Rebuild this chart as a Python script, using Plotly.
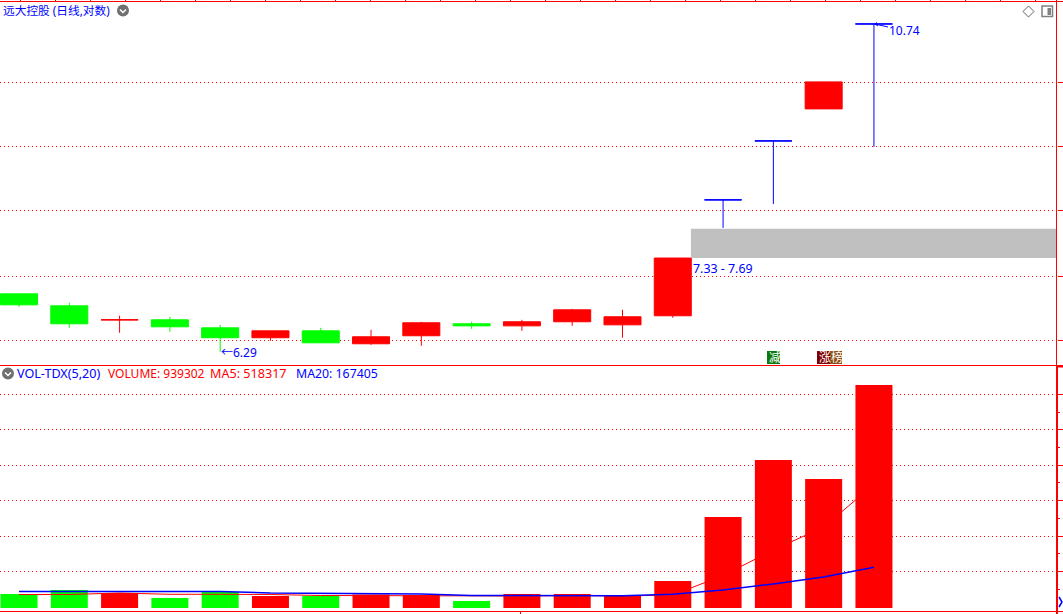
import plotly.graph_objects as go
import math

W, H, PW = 1063, 614, 1057

# ---- data ----
IDX_RED = [2, 5, 7, 8, 10, 11, 12, 13, 16]
OPEN_RED = [6.627, 6.436, 6.373, 6.457, 6.562, 6.606, 6.573, 6.671, 9.350]
HIGH_RED = [6.671, 6.509, 6.520, 6.606, 6.627, 6.747, 6.736, 7.330, 9.771]
LOW_RED = [6.488, 6.404, 6.362, 6.352, 6.509, 6.562, 6.436, 6.649, 9.350]
CLOSE_RED = [6.627, 6.509, 6.446, 6.595, 6.606, 6.736, 6.660, 7.330, 9.771]

IDX_GREEN = [0, 1, 3, 4, 6, 9]
OPEN_GREEN = [6.914, 6.780, 6.627, 6.541, 6.509, 6.584]
HIGH_GREEN = [6.914, 6.814, 6.660, 6.573, 6.541, 6.606]
LOW_GREEN = [6.769, 6.541, 6.499, 6.290, 6.383, 6.530]
CLOSE_GREEN = [6.791, 6.584, 6.552, 6.436, 6.383, 6.562]

IDX_LIMIT = [14, 15, 17]
HIGH_LIMIT = [8.060, 8.874, 10.74]
LOW_LIMIT = [7.700, 8.007, 8.788]

BAND_LOW, BAND_HIGH = 7.33, 7.69
PRICE_TICKS = [6.405, 7.114, 7.916, 8.788, 9.763]

DAYS = list(range(18))
VOLUME = [54234, 71182, 58471, 37286, 62708, 45760, 45760, 52115, 50000,
          24575, 54234, 54234, 47878, 109315, 380483, 621992, 541488, 939302]
VOL_UP = [False, False, True, False, False, True, False, True, True,
          False, True, True, True, True, True, True, True, True]
MA5 = [52115, 52115, 58471, 52962, 52962, 52115, 47878, 47031, 47031,
       45760, 45760, 47878, 45760, 49997, 132618, 240662, 338113, 518317]
MA20 = [64826, 64826, 64826, 64826, 64826, 58470, 56352, 54234, 54234,
        47878, 47031, 47031, 47031, 52962, 71182, 96600, 126263, 167405]
VOL_TICKS = [150000, 300000, 450000, 600000, 750000, 900000]
VOL_MINOR = [75000, 225000, 375000, 525000, 675000, 825000]
BAR_FOOT = -5000

RED, GREEN, BLUE = "#ff0000", "#00ff00", "#0000ff"
FONT = "Noto Sans, Noto Sans CJK SC, sans-serif"


def px(x):
    return x / PW


def py(y):
    return 1 - y / H


fig = go.Figure()

# gap band
fig.add_trace(go.Scatter(
    x=[13.36, 20.64, 20.64, 13.36, 13.36],
    y=[BAND_LOW, BAND_LOW, BAND_HIGH, BAND_HIGH, BAND_LOW],
    mode="lines", fill="toself", fillcolor="#c0c0c0", line=dict(width=0),
    xaxis="x", yaxis="y", hoverinfo="skip", showlegend=False))


def candles(x, o, h, l, c, color):
    side = dict(line=dict(color=color, width=1), fillcolor=color)
    fig.add_trace(go.Candlestick(
        x=x, open=o, high=h, low=l, close=c, increasing=side, decreasing=side,
        whiskerwidth=0, xaxis="x", yaxis="y", showlegend=False))


candles(IDX_RED, OPEN_RED, HIGH_RED, LOW_RED, CLOSE_RED, RED)
candles(IDX_GREEN, OPEN_GREEN, HIGH_GREEN, LOW_GREEN, CLOSE_GREEN, GREEN)
candles(IDX_LIMIT, HIGH_LIMIT, HIGH_LIMIT, LOW_LIMIT, HIGH_LIMIT, BLUE)

fig.add_trace(go.Bar(
    x=DAYS, y=[v - BAR_FOOT for v in VOLUME], base=BAR_FOOT,
    marker=dict(color=[RED if u else GREEN for u in VOL_UP], line=dict(width=0)),
    xaxis="x", yaxis="y2", showlegend=False))
fig.add_trace(go.Scatter(x=DAYS, y=MA5, mode="lines", line=dict(color=RED, width=1),
                         xaxis="x", yaxis="y2", showlegend=False))
fig.add_trace(go.Scatter(x=DAYS, y=MA20, mode="lines", line=dict(color=BLUE, width=1.5),
                         xaxis="x", yaxis="y2", showlegend=False))

shapes = []


def hline(y, x0=0, x1=W, color=RED, w=1):
    shapes.append(dict(type="line", xref="paper", yref="paper", x0=px(x0), x1=px(x1),
                       y0=py(y), y1=py(y), line=dict(color=color, width=w)))


def vline(x, y0=0, y1=H, color=RED, w=1):
    shapes.append(dict(type="line", xref="paper", yref="paper", x0=px(x), x1=px(x),
                       y0=py(y0), y1=py(y1), line=dict(color=color, width=w)))


hline(1.5)
hline(365.5)
hline(611.5)
vline(1056.5, 0, 366)
vline(1057, 366, 614, w=2)
hline(366.5, 1057, 1063, w=2)
vline(520.5, 611, 614)
for i in range(30):
    vline(20.5 + 35 * i, 0, 1.5)


def path_shape(pts, fill=None, line="#808080", w=1, close=False):
    d = "M" + " L".join(f"{px(a):.5f},{py(b):.5f}" for a, b in pts) + (" Z" if close else "")
    shapes.append(dict(type="path", xref="paper", yref="paper", path=d,
                       fillcolor=fill, line=dict(color=line, width=w)))


def circle_icon(cx, cy):
    shapes.append(dict(type="circle", xref="paper", yref="paper",
                       x0=px(cx - 6), x1=px(cx + 6), y0=py(cy - 6), y1=py(cy + 6),
                       fillcolor="#707070", line=dict(width=0)))
    path_shape([(cx - 3, cy - 1), (cx, cy + 2), (cx + 3, cy - 1)], line="#ffffff", w=1.5)


circle_icon(123, 10.5)
circle_icon(8, 373.5)
path_shape([(1023, 11.5), (1028.5, 6), (1034, 11.5), (1028.5, 17)], line="#606060", close=True)
shapes.append(dict(type="rect", xref="paper", yref="paper", x0=px(1042), x1=px(1052.5),
                   y0=py(6), y1=py(16.5), line=dict(color="#808080", width=1.5)))
shapes.append(dict(type="rect", xref="paper", yref="paper", x0=px(1047.5), x1=px(1051),
                   y0=py(8), y1=py(15), fillcolor="#808080", line=dict(width=0)))
# price-label arrow for the high
path_shape([(875, 24), (888, 27)], line=BLUE)
path_shape([(877, 22.5), (875, 24), (878, 26)], line=BLUE)
# small blue chevron at lower right
path_shape([(1059, 597), (1062, 602), (1059, 607)], line=BLUE, w=1.5)
# badges
for x0, x1, col in [(767, 780, "#0a7a0a"), (817, 830, "#800000"), (830, 842, "#8b4c10")]:
    shapes.append(dict(type="rect", xref="paper", yref="paper", x0=px(x0), x1=px(x1),
                       y0=py(351), y1=py(364), fillcolor=col, line=dict(width=0)))

annotations = []


def label(x, y, text, color=BLUE, size=12, anchor="left"):
    annotations.append(dict(xref="paper", yref="paper", x=px(x), y=py(y), text=text,
                            showarrow=False, xanchor=anchor, yanchor="middle", borderpad=0,
                            font=dict(family=FONT, size=size, color=color)))


label(2, 10, "远大控股 (日线,对数)", size=11.7)
label(16, 373.5, "VOL-TDX(5,20)", size=12.6)
label(106.5, 373.5, "VOLUME: 939302", RED)
label(208.5, 373.5, "MA5: 518317", RED, size=12.6)
label(294.5, 373.5, "MA20: 167405", size=12.3)
label(887.5, 30, "10.74")
label(220, 352, "←6.29")
label(692, 268, "7.33 - 7.69", size=12.4)
label(767.5, 357.5, "减", "#ffffff", 12)
label(817.5, 357.5, "涨", "#ffffff", 12)
label(830, 357.5, "榜", "#ffffff", 12)

grid = dict(showgrid=True, gridcolor=RED, griddash="1px,3px", gridwidth=1,
            zeroline=False, showticklabels=False, ticks="outside", ticklen=6,
            tickcolor=RED, side="right", showline=False, anchor="x")

fig.update_layout(
    width=W, height=H, margin=dict(l=0, r=W - PW, t=0, b=0, pad=0),
    paper_bgcolor="#ffffff", plot_bgcolor="#ffffff", showlegend=False,
    boxgap=0.264, boxgroupgap=0, bargap=0.264, boxmode="overlay",
    xaxis=dict(range=[-0.378, 20.64], showgrid=False, zeroline=False, showticklabels=False,
               ticks="", rangeslider=dict(visible=False), fixedrange=True,
               domain=[0, 1], anchor="y2"),
    yaxis=dict(type="log", range=[math.log10(6.156), math.log10(11.150)],
               domain=[py(365), py(1)], tickmode="array", tickvals=PRICE_TICKS, **grid),
    yaxis2=dict(range=[-17795, 1020270], domain=[py(611), py(366)],
                tickmode="array", tickvals=VOL_TICKS,
                minor=dict(tickmode="array", tickvals=VOL_MINOR, ticks="outside",
                           ticklen=2, tickcolor=RED, showgrid=False), **grid),
    shapes=shapes, annotations=annotations,
)

fig.write_html("out.html", config=dict(displayModeBar=False),
               post_script="document.body.style.margin='0';document.body.style.overflow='hidden';")
